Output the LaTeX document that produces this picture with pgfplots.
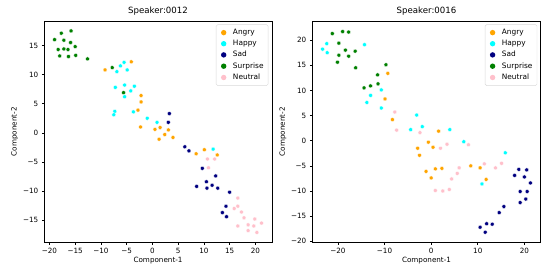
\documentclass[border=0pt]{standalone}
\usepackage{fontspec}
\setmainfont{DejaVu Sans}
\usepackage{pgfplots}
\pgfplotsset{compat=1.18}
\definecolor{cangry}{RGB}{255,165,0}
\definecolor{chappy}{RGB}{0,255,255}
\definecolor{csad}{RGB}{0,0,128}
\definecolor{csurp}{RGB}{0,128,0}
\definecolor{cneut}{RGB}{255,192,203}
\newcommand{\fs}{\fontsize{7.2bp}{8.6bp}\selectfont}
\pgfplotsset{
  myax/.style={
    scale only axis,
    anchor=south west,
    axis line style={line width=0.58bp, black},
    tick style={line width=0.58bp, black},
    tick align=outside,
    major tick length=2.5bp,
    xtick pos=bottom, ytick pos=left,
    ticklabel style={font=\fs},
    /pgf/number format/assume math mode=true,
    label style={font=\fs},
    xlabel={Component-1}, ylabel={Component-2},
    xlabel style={yshift=3bp},
    ylabel style={yshift=-2bp},
    title style={font=\fontsize{8.6bp}{10bp}\selectfont, yshift=-3.5bp},
    legend cell align=left,
    legend style={at={(1,1)}, anchor=north east, xshift=-3.5bp, yshift=-3.5bp,
      draw=black!15, rounded corners=1.5bp, font=\fontsize{7.4bp}{8.6bp}\selectfont, row sep=0.2bp,
      inner xsep=2.5bp, inner ysep=2.5bp},
    legend image code/.code={\path (0,0) (0.42cm,0); \fill[##1, draw=none] (0.17cm,0) circle (2.7bp);},
  },
  pts/.style={only marks, mark=*, mark size=2.0bp, color=#1, mark options={draw=white, line width=0.3bp, fill=#1}},
}
\begin{document}
\begin{tikzpicture}
\path[use as bounding box] (0,0) rectangle (543bp,265bp);
\begin{axis}[myax, at={(44.3bp,22.7bp)}, width=227.5bp, height=221.3bp,
  xmin=-21.0, xmax=23.2, ymin=-18.8, ymax=19.2,
  xtick={-20,-15,-10,-5,0,5,10,15,20},
  xticklabels={−20,−15,−10,−5,0,5,10,15,20},
  ytick={-15,-10,-5,0,5,10,15},
  yticklabels={−15,−10,−5,0,5,10,15},
  title={Speaker:0012}]
\addplot[pts=cangry] coordinates {(-9.2,10.8)(-4.1,12.2)(-2.2,6.4)(-2.2,5.3)(-2.8,3.9)(-2.3,1.0)(0.5,0.6)(1.5,0.9)(1.3,-1.1)(2.4,-0.3)(3.1,0.5)(4.0,-0.8)(8.5,-3.6)(10.1,-2.9)(12.6,-3.8)};
\addlegendentry{Angry}
\addplot[pts=chappy] coordinates {(-5.5,12.1)(-6.2,11.5)(-6.9,10.5)(-4.9,10.8)(-5.4,8.2)(-3.5,8.0)(-7.2,7.8)(-4.2,7.2)(-5.4,6.2)(-7.3,3.7)(-7.5,3.1)(-3.7,3.6)(-1.0,2.5)(0.9,1.8)(11.8,-2.8)};
\addlegendentry{Happy}
\addplot[pts=csad] coordinates {(3.3,3.3)(3.1,1.8)(6.3,-2.4)(7.1,-3.1)(9.7,-6.1)(12.3,-7.4)(10.5,-8.4)(8.6,-9.2)(10.6,-9.5)(11.6,-9.0)(12.7,-9.5)(15.0,-10.2)(14.3,-12.6)(13.6,-13.7)(14.4,-14.4)};
\addlegendentry{Sad}
\addplot[pts=csurp] coordinates {(-19.0,16.0)(-17.7,17.1)(-15.8,17.5)(-18.3,14.3)(-17.2,15.9)(-17.2,14.4)(-15.9,15.5)(-16.4,14.3)(-15.0,14.8)(-18.0,13.2)(-16.3,13.1)(-14.9,13.3)(-12.6,12.7)(-7.8,11.2)(-5.6,6.9)};
\addlegendentry{Surprise}
\addplot[pts=cneut] coordinates {(10.7,-4.5)(12.1,-4.5)(10.9,-6.0)(16.6,-11.2)(16.6,-12.6)(15.9,-13.0)(17.3,-13.6)(17.8,-14.6)(19.9,-14.8)(21.2,-15.5)(18.6,-15.8)(19.7,-16.0)(16.6,-16.0)(18.6,-16.8)(20.3,-17.1)};
\addlegendentry{Neutral}
\end{axis}
\begin{axis}[myax, at={(312.3bp,22.7bp)}, width=228.4bp, height=221.3bp,
  xmin=-25.5, xmax=23.5, ymin=-20.2, ymax=23.8,
  xtick={-20,-10,0,10,20},
  xticklabels={−20,−10,0,10,20},
  ytick={-20,-15,-10,-5,0,5,10,15,20},
  yticklabels={−20,−15,−10,−5,0,5,10,15,20},
  title={Speaker:0016}]
\addplot[pts=cangry] coordinates {(-9.3,13.4)(-9.9,8.3)(-8.3,4.2)(1.6,1.9)(-0.6,-0.3)(-2.9,-1.5)(0.4,-1.3)(-2.5,-2.9)(-1.1,-6.1)(0.9,-5.6)(2.3,-5.5)(0.0,-7.4)(8.5,-5.0)(10.5,-5.4)(11.8,-7.7)};
\addlegendentry{Angry}
\addplot[pts=chappy] coordinates {(-22.4,19.3)(-23.3,18.2)(-22.3,17.5)(-14.3,19.1)(-10.7,10.1)(-13.0,9.0)(-13.8,7.6)(-10.7,6.5)(-3.1,5.1)(-4.4,2.2)(-1.9,2.8)(4.0,2.2)(7.0,-0.2)(15.9,-2.4)(10.9,-8.6)};
\addlegendentry{Happy}
\addplot[pts=csad] coordinates {(18.8,-5.7)(20.5,-5.8)(17.9,-6.9)(20.0,-7.2)(21.3,-8.4)(19.1,-10.1)(20.6,-10.1)(20.3,-11.6)(19.1,-12.3)(15.6,-13.1)(14.6,-14.3)(11.9,-16.5)(13.1,-16.6)(10.5,-17.2)(11.6,-18.2)};
\addlegendentry{Sad}
\addplot[pts=csurp] coordinates {(-21.2,21.3)(-19.0,21.7)(-17.7,21.6)(-19.8,19.4)(-18.4,18.0)(-19.8,17.0)(-17.7,16.8)(-16.3,17.8)(-20.1,15.6)(-16.2,14.5)(-9.7,15.1)(-11.5,13.1)(-11.4,11.3)(-13.0,10.9)(-14.4,10.5)};
\addlegendentry{Surprise}
\addplot[pts=cneut] coordinates {(-7.8,5.7)(-7.4,2.1)(-2.4,1.6)(2.0,-1.5)(3.4,-0.7)(8.0,-0.8)(11.4,-4.6)(15.1,-4.5)(13.8,-5.4)(6.0,-5.4)(5.6,-6.5)(4.4,-7.6)(0.9,-9.9)(2.5,-10.0)(3.9,-9.7)};
\addlegendentry{Neutral}
\end{axis}
\end{tikzpicture}
\end{document}
